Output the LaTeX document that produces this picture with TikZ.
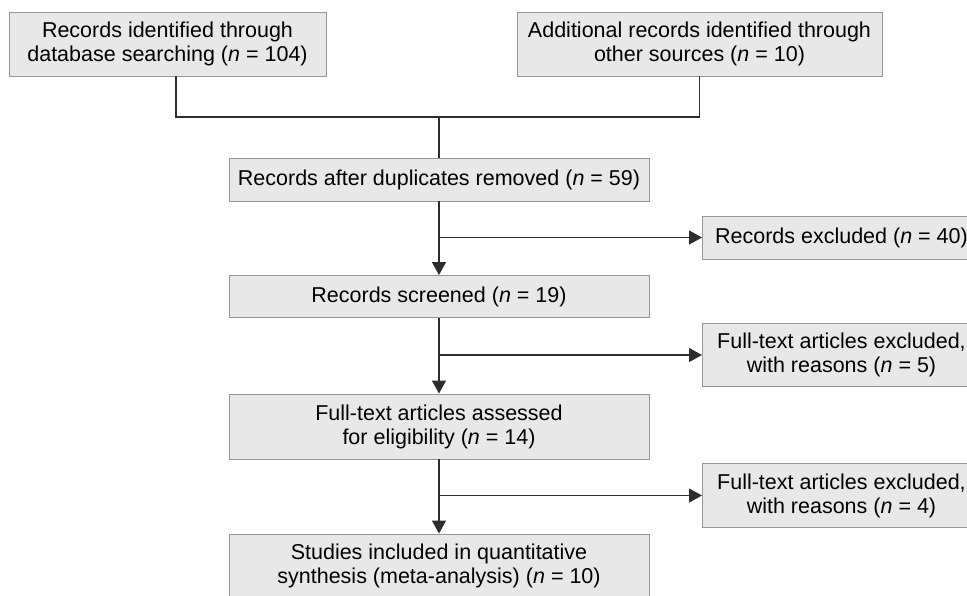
\documentclass[tikz,border=0pt]{standalone}
\usepackage{fontspec}
\setmainfont{Liberation Sans}
\definecolor{boxgray}{RGB}{232,232,232}
\definecolor{edgegray}{RGB}{150,150,150}
\definecolor{linegray}{RGB}{45,45,45}
\usetikzlibrary{arrows.meta,calc}

\begin{document}
\begin{tikzpicture}[x=1pt, y=-1pt,
  flowbox/.style={draw=edgegray, fill=boxgray, line width=0.9pt, align=center, inner sep=0pt, font=\fontsize{21.5}{24}\selectfont},
  link/.style={linegray, line width=1.3pt},
  arrowlink/.style={link, -{Triangle[length=13pt,width=14pt]}}]
  \useasboundingbox[clip] (0,0) rectangle (967,595);
  % Identification
  \node[flowbox, minimum width=317pt, minimum height=64pt] (ident) at (167.5,44) {Records identified through\\database searching (\textit{n} = 104)};
  \node[flowbox, minimum width=365pt, minimum height=64pt] (other) at (699.5,44) {Additional records identified through\\other sources (\textit{n} = 10)};
  % Main column
  \node[flowbox, minimum width=420pt, minimum height=43pt] (dedup) at (439,179.5) {Records after duplicates removed (\textit{n} = 59)};
  \node[flowbox, minimum width=420pt, minimum height=42pt] (screen) at (439,296.5) {Records screened (\textit{n} = 19)};
  \node[flowbox, minimum width=420pt, minimum height=65pt] (assess) at (439,426.5) {Full-text articles assessed\\for eligibility (\textit{n} = 14)};
  \node[flowbox, minimum width=420pt, minimum height=64pt] (incl) at (439,566) {Studies included in quantitative\\synthesis (meta-analysis) (\textit{n} = 10)};
  % Exclusions
  \node[flowbox, minimum width=278pt, minimum height=43pt, anchor=west] (excl1) at (702,237.5) {Records excluded (\textit{n} = 40)};
  \node[flowbox, minimum width=278pt, minimum height=63pt, anchor=west] (excl2) at (702,355) {Full-text articles excluded,\\with reasons (\textit{n} = 5)};
  \node[flowbox, minimum width=278pt, minimum height=64pt, anchor=west] (excl3) at (702,495.5) {Full-text articles excluded,\\with reasons (\textit{n} = 4)};
  % Merge
  \coordinate (merge) at (439,117);
  \draw[link] ([xshift=8.5pt]ident.south) |- (merge) -| (other.south);
  \draw[link] (merge) -- (dedup.north);
  % Arrows
  \draw[arrowlink] (dedup.south) -- (screen.north);
  \draw[arrowlink] (dedup.south |- excl1.west) -- (excl1.west);
  \draw[arrowlink] (screen.south) -- (assess.north);
  \draw[arrowlink] (screen.south |- excl2.west) -- (excl2.west);
  \draw[arrowlink] (assess.south) -- (incl.north);
  \draw[arrowlink] (assess.south |- excl3.west) -- (excl3.west);
\end{tikzpicture}
\end{document}
